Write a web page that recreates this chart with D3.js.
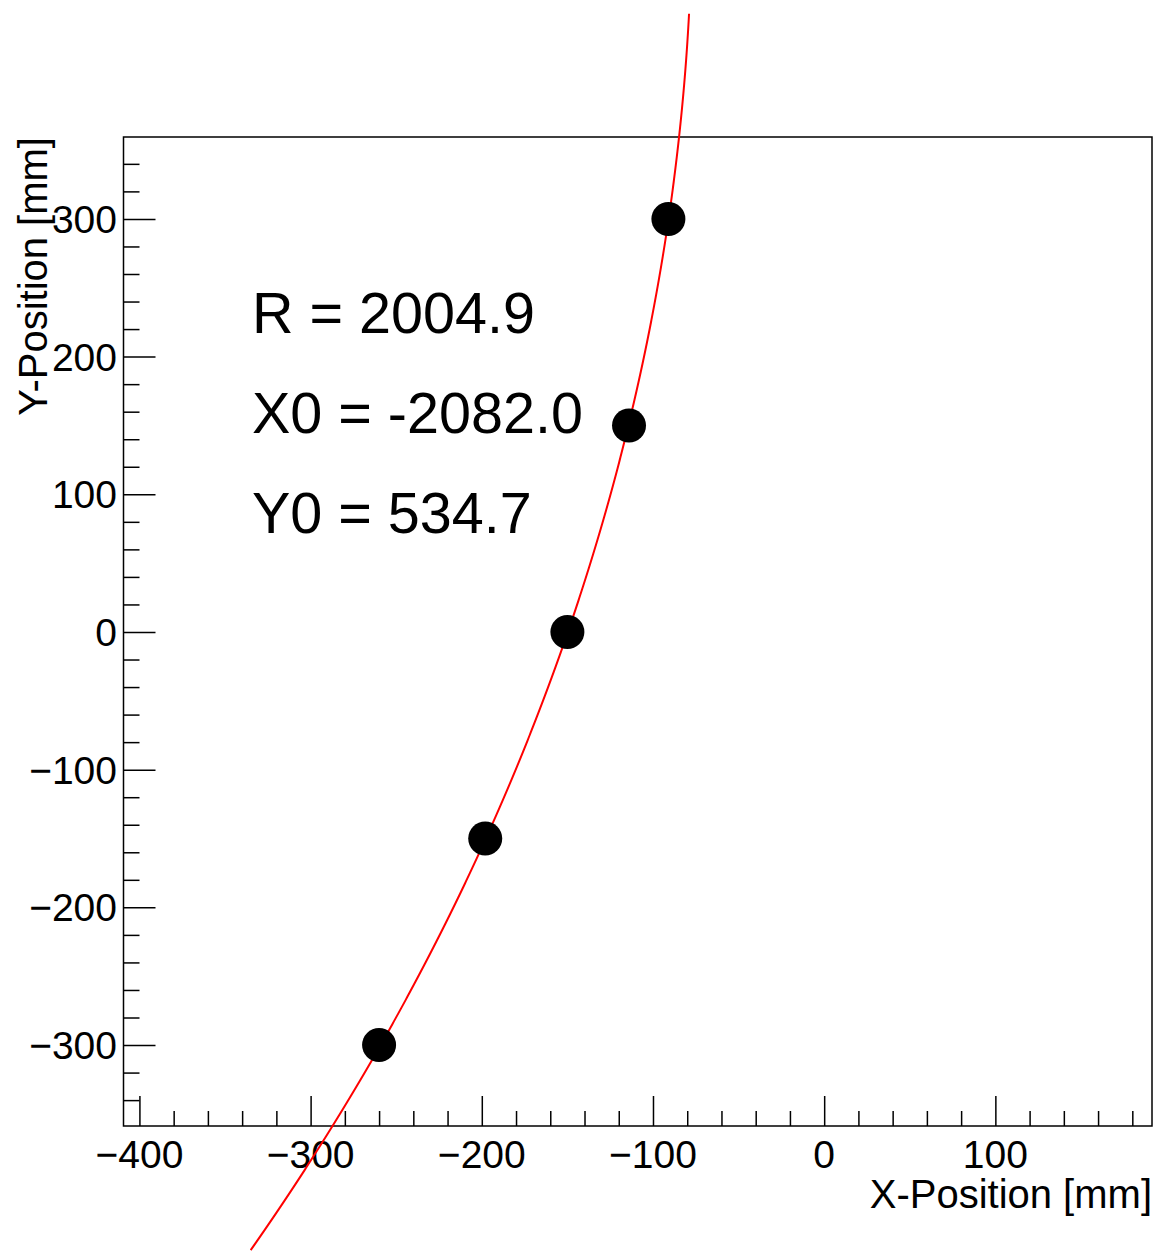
<!DOCTYPE html>
<html>
<head>
<meta charset="utf-8">
<script src="https://cdn.jsdelivr.net/npm/d3@7"></script>
<style>
  html, body { margin: 0; padding: 0; background: #fff; }
  svg { display: block; font-family: "Liberation Sans", Arial, Helvetica, sans-serif; }
</style>
</head>
<body>
<svg id="chart"></svg>
<script>
// measured hits
const hitX = [-260, -198, -150, -114, -91];
const hitY = [-300, -150, 0, 150, 300];

// circle fit parameters (as printed on the plot)
const fitLabels = ['R = 2004.9', 'X0 = -2082.0', 'Y0 = 534.7'];
const fitR = 2004.9;
const fitX0 = -2082.0;
const fitY0 = 534.7;
const fitYRange = [-449, 450];

const xTicks = [-400, -300, -200, -100, 0, 100];
const yTicks = [-300, -200, -100, 0, 100, 200, 300];
const xDomain = [-409.3, 191.5];
const yDomain = [-358.8, 359.5];

const width = 1154, height = 1251;
const frame = { left: 123.5, right: 1152, top: 137, bottom: 1126 };

const svg = d3.select('#chart')
    .attr('width', width)
    .attr('height', height);

const x = d3.scaleLinear().domain(xDomain).range([frame.left, frame.right]);
const y = d3.scaleLinear().domain(yDomain).range([frame.bottom, frame.top]);

const fmt = v => v < 0 ? '\u2212' + Math.abs(v) : String(v);

// minor ticks every 20 mm
const xMinor = d3.range(-400, 200, 20).filter(v => v >= xDomain[0] && v <= xDomain[1]);
const yMinor = d3.range(-340, 360, 20).filter(v => v >= yDomain[0] && v <= yDomain[1]);

// X axis
svg.append('g')
    .attr('transform', `translate(0,${frame.bottom})`)
    .call(d3.axisTop(x).tickValues(xTicks).tickSize(30).tickFormat(''));
svg.append('g')
    .attr('transform', `translate(0,${frame.bottom})`)
    .call(d3.axisTop(x).tickValues(xMinor.filter(v => v % 100 !== 0)).tickSize(15).tickFormat(''));

svg.append('g').selectAll('text')
    .data(xTicks)
    .join('text')
    .attr('x', d => x(d))
    .attr('y', 1168)
    .attr('text-anchor', 'middle')
    .attr('font-size', '39px')
    .text(fmt);

// Y axis
svg.append('g')
    .attr('transform', `translate(${frame.left},0)`)
    .call(d3.axisRight(y).tickValues(yTicks).tickSize(32).tickFormat(''));
svg.append('g')
    .attr('transform', `translate(${frame.left},0)`)
    .call(d3.axisRight(y).tickValues(yMinor.filter(v => v % 100 !== 0)).tickSize(16).tickFormat(''));

svg.append('g').selectAll('text')
    .data(yTicks)
    .join('text')
    .attr('x', 117)
    .attr('y', d => y(d) + 14)
    .attr('text-anchor', 'end')
    .attr('font-size', '39px')
    .text(fmt);

svg.selectAll('.domain').remove();
svg.selectAll('.tick line').attr('stroke', '#000').attr('stroke-width', 1.5);

// Frame
svg.append('rect')
    .attr('x', frame.left)
    .attr('y', frame.top)
    .attr('width', frame.right - frame.left)
    .attr('height', frame.bottom - frame.top)
    .attr('fill', 'none')
    .attr('stroke', '#000')
    .attr('stroke-width', 1.5);

// Axis titles
svg.append('text')
    .attr('x', frame.right)
    .attr('y', 1208)
    .attr('text-anchor', 'end')
    .attr('font-size', '40px')
    .text('X-Position [mm]');

svg.append('text')
    .attr('transform', `translate(47,${frame.top}) rotate(-90)`)
    .attr('text-anchor', 'end')
    .attr('font-size', '40px')
    .text('Y-Position [mm]');

// Fit parameters
svg.append('g').selectAll('text')
    .data(fitLabels)
    .join('text')
    .attr('x', 252)
    .attr('y', (d, i) => 333 + i * 100)
    .attr('font-size', '57.5px')
    .text(d => d);

// Fitted circle (not clipped to the frame, as in the original)
const curveY = d3.range(fitYRange[0], fitYRange[1] + 1, 2);
const line = d3.line()
    .x(v => x(fitX0 + Math.sqrt(fitR * fitR - (v - fitY0) * (v - fitY0))))
    .y(v => y(v));

svg.append('path')
    .datum(curveY)
    .attr('d', line)
    .attr('fill', 'none')
    .attr('stroke', '#ff0000')
    .attr('stroke-width', 2);

// Hits
svg.append('g').selectAll('circle')
    .data(hitX.map((v, i) => [v, hitY[i]]))
    .join('circle')
    .attr('cx', d => x(d[0]))
    .attr('cy', d => y(d[1]))
    .attr('r', 17)
    .attr('fill', '#000');
</script>
</body>
</html>
